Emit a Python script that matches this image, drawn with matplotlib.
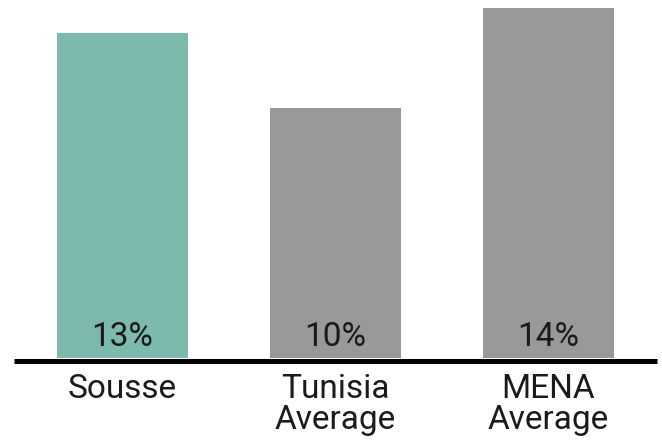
import matplotlib.pyplot as plt
from matplotlib.transforms import blended_transform_factory

categories = ["Sousse", "Tunisia\nAverage", "MENA\nAverage"]
values = [13, 10, 14]
value_labels = ["13%", "10%", "14%"]
colors = ["#7db9ad", "#999999", "#999999"]

plt.rcParams['font.family'] = ['Roboto', 'DejaVu Sans']

W, H = 662, 443
fig = plt.figure(figsize=(W / 100, H / 100), dpi=100)
ax = fig.add_axes([14 / W, (H - 358) / H, 643 / W, 358 / H])

x = list(range(len(values)))
ax.bar(x, values, width=0.615, color=colors, zorder=2)
ax.set_xlim(-0.509, 2.509)
ax.set_ylim(0, 14.32)

for xi, lab in zip(x, value_labels):
    ax.text(xi, 0.85, lab, ha='center', va='center', fontsize=24,
            color='#1a1a1a', zorder=3)

# baseline just under the bars
trans = blended_transform_factory(ax.transAxes, ax.transData)
ax.plot([0, 1], [-0.12, -0.12], transform=trans, color='black',
        linewidth=3.6, solid_capstyle='butt', clip_on=False, zorder=3)

for xi, cat in zip(x, categories):
    ax.text(xi, -0.6, cat, ha='center', va='top', fontsize=24,
            color='#1a1a1a', linespacing=0.97)

ax.axis('off')
fig.savefig("out.png", dpi=100)
